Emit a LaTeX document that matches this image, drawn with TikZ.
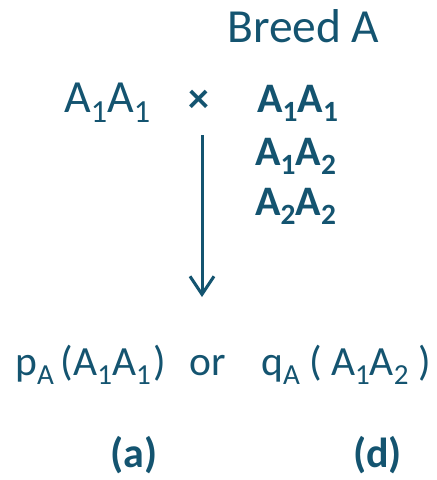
\documentclass[tikz,border=0pt]{standalone}
\usepackage{fontspec}
\setmainfont{Carlito}
\usetikzlibrary{arrows.meta}
\definecolor{teal}{RGB}{20,84,112}
\newcommand{\sbs}[1]{\raisebox{-0.22em}{\fontsize{0.7em}{0.7em}\selectfont #1}}
\begin{document}
\begin{tikzpicture}[x=1pt,y=-1pt,
  lbl/.style={text=teal,inner sep=0pt,anchor=base west,font=\fontsize{46}{50}\selectfont},
  blbl/.style={text=teal,inner sep=0pt,anchor=base west,font=\fontsize{42}{46}\selectfont\bfseries},
  mlbl/.style={text=teal,inner sep=0pt,anchor=base west,font=\fontsize{41.5}{45}\selectfont}]
\useasboundingbox (0,0) rectangle (437,480);
\node[lbl,font=\fontsize{47.5}{50}\selectfont] (breed) at (227,42) {Breed A};
\node[lbl] (left) at (64,112) {A\sbs{1}A\sbs{1}};
\node[blbl] (cross) at (188,112) {×};
\node[blbl] (g1) at (257,112) {A\sbs{1}A\sbs{1}};
\node[blbl] (g2) at (255,165) {A\sbs{1}A\sbs{2}};
\node[blbl] (g3) at (255,215) {A\sbs{2}A\sbs{2}};
\coordinate (top) at (202,135);
\coordinate (tip) at (202,297);
\draw[teal,line width=3pt,-{Straight Barb[length=18pt,width=24pt,line width=3pt]}] (top) -- (tip);
\node[mlbl] (pa) at (15,375) {p\sbs{A}\,(A\sbs{1}A\sbs{1}\kern3pt)};
\node[mlbl] (or) at (189,375) {or};
\node[mlbl] (qa) at (261,375) {q\sbs{A} ( A\sbs{1}A\sbs{2} )};
\node[blbl] (a) at (110,467) {(a)};
\node[blbl] (d) at (353,467) {(d)};
\end{tikzpicture}
\end{document}
